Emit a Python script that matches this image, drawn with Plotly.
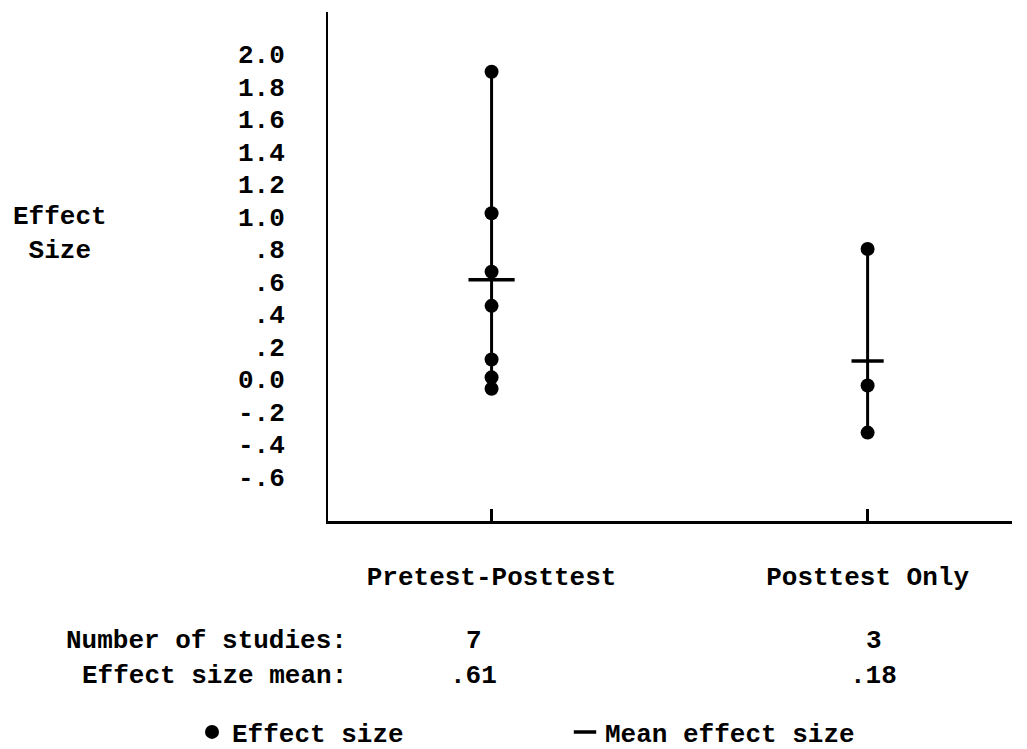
import plotly.graph_objects as go

# ---- data ----
categories = ["Pretest-Posttest", "Posttest Only"]
cat_pos = [0, 1]
pretest_effects = [1.89, 1.02, 0.66, 0.45, 0.12, 0.01, -0.06]
posttest_effects = [0.80, -0.04, -0.33]
mean_marks = [0.61, 0.11]
n_studies = ["7", "3"]
mean_labels = [".61", ".18"]
ytick_vals = [2.0, 1.8, 1.6, 1.4, 1.2, 1.0, 0.8, 0.6, 0.4, 0.2, 0.0, -0.2, -0.4, -0.6]
ytick_text = ["2.0", "1.8", "1.6", "1.4", "1.2", "1.0", ".8", ".6", ".4", ".2",
              "0.0", "-.2", "-.4", "-.6"]

FONT = "Liberation Mono"
groups = [pretest_effects, posttest_effects]

fig = go.Figure()

# vertical range lines
for pos, vals in zip(cat_pos, groups):
    fig.add_trace(go.Scatter(
        x=[pos, pos], y=[max(vals), min(vals)], mode="lines",
        line=dict(color="black", width=3), showlegend=False, hoverinfo="skip"))

# effect size dots
xs, ys = [], []
for pos, vals in zip(cat_pos, groups):
    xs += [pos] * len(vals)
    ys += vals
fig.add_trace(go.Scatter(
    x=xs, y=ys, mode="markers", name="Effect size",
    marker=dict(symbol="circle", size=14, color="black", opacity=1)))

# mean marks
fig.add_trace(go.Scatter(
    x=cat_pos, y=mean_marks, mode="markers", name="Mean effect size",
    marker=dict(symbol="line-ew", size=[33, 23], color="black", opacity=1,
                line=dict(color="black", width=3.5))))

# page body has an 8px margin: work in reference pixels, then subtract it
OFF = 8
W, H = 1027 - OFF, 757
L = 328 - OFF
T = 12 - OFF
R = W - (1012 - OFF)
B = H - (521 - OFF)
pw, ph = W - L - R, H - T - B

def py(ypix):
    return (T + ph - (ypix - OFF)) / ph

def px(xpix):
    return ((xpix - OFF) - L) / pw

FS = 26
bold = dict(family=FONT, size=FS, color="black", weight="bold")
annos = []
annos.append(dict(text="Effect<br>Size", x=px(60), y=py(234), xref="paper", yref="paper",
                  showarrow=False, xanchor="center", yanchor="middle", align="center",
                  font=bold))
annos.append(dict(text="Number of studies:", x=px(349), y=py(641), xref="paper", yref="paper",
                  showarrow=False, xanchor="right", yanchor="middle", font=bold))
annos.append(dict(text="Effect size mean:", x=px(349), y=py(676), xref="paper", yref="paper",
                  showarrow=False, xanchor="right", yanchor="middle", font=bold))
for pos, n, m, dn, dm in zip(cat_pos, n_studies, mean_labels, [-18, 6], [-18, 6]):
    annos.append(dict(text=n, x=pos, y=py(641), xref="x", yref="paper", showarrow=False,
                      xanchor="center", yanchor="middle", xshift=dn, font=bold))
    annos.append(dict(text=m, x=pos, y=py(676), xref="x", yref="paper", showarrow=False,
                      xanchor="center", yanchor="middle", xshift=dm, font=bold))

fig.update_layout(
    width=W, height=H,
    margin=dict(l=L, r=R, t=T, b=B, autoexpand=False),
    paper_bgcolor="white", plot_bgcolor="white",
    font=dict(family=FONT, size=FS, color="black"),
    annotations=annos,
    legend=dict(orientation="h", x=px(192), y=py(732), xanchor="left", yanchor="middle",
                font=bold, entrywidth=328, entrywidthmode="pixels", itemwidth=30,
                bgcolor="rgba(0,0,0,0)"),
    xaxis=dict(range=[-0.435, 1.384], tickvals=cat_pos, ticktext=categories,
               showgrid=False, zeroline=False, showline=True, linecolor="black",
               linewidth=3, ticks="inside", ticklen=12, tickwidth=3, tickcolor="black",
               ticklabelstandoff=30, automargin=False, tickfont=bold),
    yaxis=dict(range=[-0.874, 2.258], tickvals=ytick_vals, ticktext=ytick_text,
               showgrid=False, zeroline=False, showline=True, linecolor="black",
               linewidth=2, ticks="", ticklabelstandoff=36, automargin=False,
               tickfont=bold),
)

fig.write_html("out.html")
